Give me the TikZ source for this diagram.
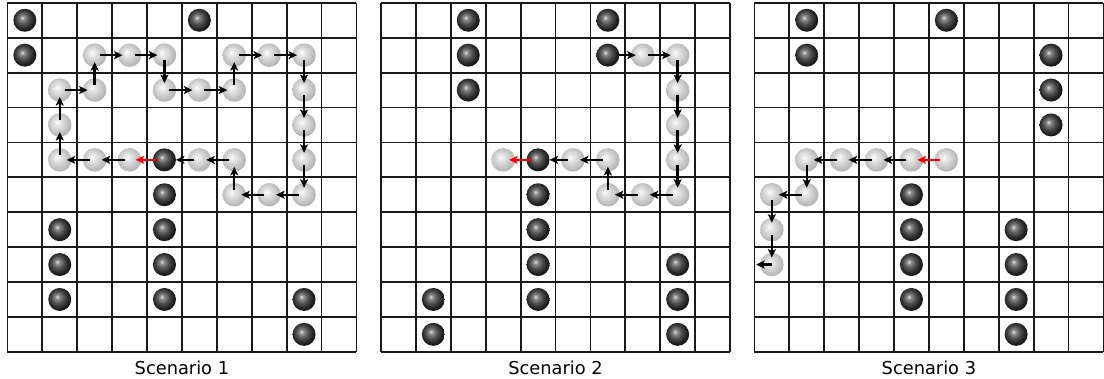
\documentclass[tikz,border=0pt]{standalone}
\usepackage{fontspec}
\setmainfont{DejaVu Sans}
\usetikzlibrary{arrows.meta}
\pgfdeclareradialshading{lightball}{\pgfpoint{-6bp}{6bp}}{color(0bp)=(white); color(6bp)=(black!9); color(16bp)=(black!19); color(27bp)=(black!30); color(40bp)=(black!37); color(50bp)=(black!40)}
\pgfdeclareradialshading{darkball}{\pgfpoint{-6bp}{6bp}}{color(0bp)=(black!12); color(5bp)=(black!45); color(13bp)=(black!68); color(22bp)=(black!86); color(30bp)=(black!96); color(50bp)=(black)}
\pgfdeclarelayer{arr}
\pgfdeclarelayer{dark}
\pgfdeclarelayer{redl}
\pgfsetlayers{main,arr,dark,redl}
\tikzset{
  gridline/.style={line width=1.8pt, black!90},
  lball/.style={circle, minimum size=23.5pt, inner sep=0pt, shade, shading=lightball},
  dball/.style={circle, minimum size=23pt, inner sep=0pt, shade, shading=darkball},
  mv/.style={line width=2.4pt, black, -{Stealth[length=8.5pt,width=8pt,inset=2pt]}, shorten <=5pt, shorten >=7pt},
  mvdark/.style={mv, shorten >=11.5pt},
  redmv/.style={mv, red, line width=2.6pt, shorten <=6pt, shorten >=6pt},
  caption/.style={font=\fontsize{17.8}{20}\selectfont, anchor=base, inner sep=0pt},
  gridscope/.style={shift={(#1,-2.8pt)}, x=34.9pt, y=-34.9pt}
}
\begin{document}
\begin{tikzpicture}
\useasboundingbox (0,0) rectangle (1104pt,-378pt);

% ---------------- Scenario 1 ----------------
\begin{scope}[gridscope=7.4pt]
  \foreach \i in {0,...,10} {
    \draw[gridline] (\i,0) -- (\i,10);
    \draw[gridline] (0,\i) -- (10,\i);
  }
  \foreach \c/\r in {2/1,3/1,4/1,4/2,5/2,6/2,6/1,7/1,8/1,8/2,8/3,8/4,8/5,7/5,6/5,6/4,5/4,3/4,2/4,1/4,1/3,1/2,2/2}
    \node[lball] (A-\c-\r) at (\c+0.5,\r+0.5) {};
  \begin{pgfonlayer}{dark}
  \foreach \c/\r in {0/0,5/0,0/1,4/4,4/5,1/6,1/7,1/8,4/6,4/7,4/8,8/8,8/9}
    \node[dball] (A-\c-\r) at (\c+0.5,\r+0.5) {};
  \end{pgfonlayer}
  \begin{pgfonlayer}{arr}
  \foreach \a/\b in {2-1/3-1,3-1/4-1,4-1/4-2,4-2/5-2,5-2/6-2,6-2/6-1,6-1/7-1,7-1/8-1,8-1/8-2,8-2/8-3,8-3/8-4,8-4/8-5,8-5/7-5,7-5/6-5,6-5/6-4,6-4/5-4,3-4/2-4,2-4/1-4,1-4/1-3,1-3/1-2,1-2/2-2,2-2/2-1}
    \draw[mv] (A-\a.center) -- (A-\b.center);
  \draw[mvdark] (A-5-4.center) -- (A-4-4.center);
  \end{pgfonlayer}
  \begin{pgfonlayer}{redl}
  \draw[redmv] (A-4-4.center) -- (A-3-4.center);
  \end{pgfonlayer}
\end{scope}
\node[caption] (cap1) at (181.9pt,-374.3pt) {Scenario 1};

% ---------------- Scenario 2 ----------------
\begin{scope}[gridscope=381pt]
  \foreach \i in {0,...,10} {
    \draw[gridline] (\i,0) -- (\i,10);
    \draw[gridline] (0,\i) -- (10,\i);
  }
  \foreach \c/\r in {7/1,8/1,8/2,8/3,8/4,8/5,7/5,6/5,6/4,5/4,3/4}
    \node[lball] (B-\c-\r) at (\c+0.5,\r+0.5) {};
  \begin{pgfonlayer}{dark}
  \foreach \c/\r in {2/0,2/1,2/2,6/0,6/1,4/4,4/5,4/6,4/7,4/8,1/8,1/9,8/7,8/8,8/9}
    \node[dball] (B-\c-\r) at (\c+0.5,\r+0.5) {};
  \end{pgfonlayer}
  \begin{pgfonlayer}{arr}
  \foreach \a/\b in {6-1/7-1,7-1/8-1,8-1/8-2,8-2/8-3,8-3/8-4,8-4/8-5,8-5/7-5,7-5/6-5,6-5/6-4,6-4/5-4}
    \draw[mv] (B-\a.center) -- (B-\b.center);
  \draw[mvdark] (B-5-4.center) -- (B-4-4.center);
  \end{pgfonlayer}
  \begin{pgfonlayer}{redl}
  \draw[redmv] (B-4-4.center) -- (B-3-4.center);
  \end{pgfonlayer}
\end{scope}
\node[caption] (cap2) at (555.5pt,-374.3pt) {Scenario 2};

% ---------------- Scenario 3 ----------------
\begin{scope}[gridscope=754.4pt]
  \foreach \i in {0,...,10} {
    \draw[gridline] (\i,0) -- (\i,10);
    \draw[gridline] (0,\i) -- (10,\i);
  }
  \foreach \c/\r in {5/4,4/4,3/4,2/4,1/4,1/5,0/5,0/6,0/7}
    \node[lball] (C-\c-\r) at (\c+0.5,\r+0.5) {};
  \coordinate (Cexit) at (0.05,7.5);
  \begin{pgfonlayer}{dark}
  \foreach \c/\r in {1/0,1/1,5/0,8/1,8/2,8/3,4/5,4/6,4/7,4/8,7/6,7/7,7/8,7/9}
    \node[dball] (C-\c-\r) at (\c+0.5,\r+0.5) {};
  \end{pgfonlayer}
  \begin{pgfonlayer}{arr}
  \foreach \a/\b in {4-4/3-4,3-4/2-4,2-4/1-4,1-4/1-5,1-5/0-5,0-5/0-6,0-6/0-7}
    \draw[mv] (C-\a.center) -- (C-\b.center);
  \draw[mv, shorten <=0pt, shorten >=0pt] (C-0-7.center) -- (Cexit);
  \end{pgfonlayer}
  \begin{pgfonlayer}{redl}
  \draw[redmv] (C-5-4.center) -- (C-4-4.center);
  \end{pgfonlayer}
\end{scope}
\node[caption] (cap3) at (928.9pt,-374.3pt) {Scenario 3};
\end{tikzpicture}
\end{document}
